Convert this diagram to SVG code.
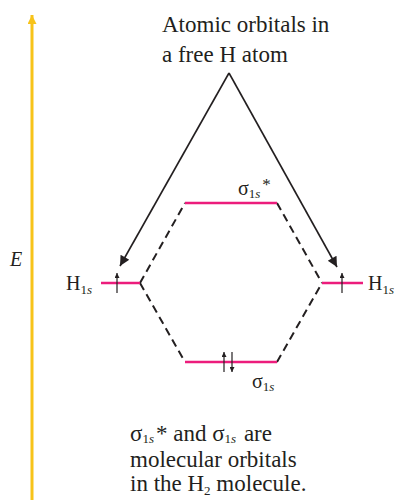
<svg xmlns="http://www.w3.org/2000/svg" width="405" height="500" viewBox="0 0 405 500">
<defs>
<style>
.t{font-family:"Liberation Serif","DejaVu Serif",serif;fill:#231f20}
.big{font-size:23px}
.lab{font-size:20px}
.sub{font-size:13px}
.it{font-style:italic}
.lvl{stroke:#ec1c7c;stroke-width:2.5;fill:none}
.dash{stroke:#231f20;stroke-width:2;stroke-dasharray:8 5;fill:none}
.arr{stroke:#231f20;stroke-width:1.6;fill:none}
.spin{stroke:#231f20;stroke-width:1.2;fill:none}
</style>
<marker id="ah" viewBox="0 0 10 10" refX="10" refY="5" markerWidth="6" markerHeight="5" markerUnits="userSpaceOnUse" orient="auto">
<path d="M0,0 L10,5 L0,10 z" fill="#231f20"/>
</marker>
<marker id="big" viewBox="0 0 10 10" refX="10" refY="5" markerWidth="13" markerHeight="10" orient="auto" markerUnits="userSpaceOnUse">
<path d="M0,0 L10,5 L0,10 z" fill="#231f20"/>
</marker>
<marker id="ya" viewBox="0 0 10 10" refX="10" refY="5" markerWidth="16" markerHeight="9" orient="auto" markerUnits="userSpaceOnUse">
<path d="M0,0 L10,5 L0,10 z" fill="#f7c31a"/>
</marker>
</defs>
<g id="axis">
<line x1="32" y1="500" x2="32" y2="15" stroke="#f7c31a" stroke-width="3" marker-end="url(#ya)"/>
<text class="t lab it" x="10" y="266">E</text>
</g>
<g id="caption-top">
<text class="t big" x="162" y="32">Atomic orbitals in</text>
<text class="t big" x="162" y="62">a free H atom</text>
</g>
<g id="connectors">
<line class="arr" x1="229" y1="73" x2="120" y2="266" marker-end="url(#big)"/>
<line class="arr" x1="229" y1="73" x2="337" y2="267" marker-end="url(#big)"/>
<path class="dash" d="M140,283 L185,203"/>
<path class="dash" d="M277,203 L322,283"/>
<path class="dash" d="M140,283 L185,362"/>
<path class="dash" d="M277,362 L322,283"/>
</g>
<g id="H1s-left">
<line class="lvl" x1="101" y1="283" x2="140" y2="283"/>
<line class="spin" x1="117" y1="293" x2="117" y2="273" marker-end="url(#ah)"/>
<text class="t lab" x="66" y="290">H<tspan class="sub" dy="4">1<tspan class="it">s</tspan></tspan></text>
</g>
<g id="H1s-right">
<line class="lvl" x1="322" y1="283" x2="363" y2="283"/>
<line class="spin" x1="342" y1="293" x2="342" y2="273" marker-end="url(#ah)"/>
<text class="t lab" x="368" y="290">H<tspan class="sub" dy="4">1<tspan class="it">s</tspan></tspan></text>
</g>
<g id="sigma-star">
<line class="lvl" x1="185" y1="203" x2="277" y2="203"/>
<text class="t lab" x="238" y="195">σ<tspan class="sub" dy="3">1<tspan class="it">s</tspan></tspan><tspan dx="2" dy="-8" font-size="17">*</tspan></text>
</g>
<g id="sigma">
<line class="lvl" x1="185" y1="362" x2="277" y2="362"/>
<line class="spin" x1="224" y1="372" x2="224" y2="352" marker-end="url(#ah)"/>
<line class="spin" x1="232" y1="352" x2="232" y2="372" marker-end="url(#ah)"/>
<text class="t lab" x="252" y="388">σ<tspan class="sub" dy="3">1<tspan class="it">s</tspan></tspan></text>
</g>
<g id="caption-bottom">
<text class="t big" x="130" y="441">σ<tspan class="sub" dy="2">1<tspan class="it">s</tspan></tspan><tspan dx="2" dy="-2">* and σ</tspan><tspan class="sub" dy="2">1<tspan class="it">s</tspan></tspan><tspan dx="2" dy="-2"> are</tspan></text>
<text class="t big" x="130" y="467">molecular orbitals</text>
<text class="t big" x="130" y="491">in the H<tspan class="sub" dy="4">2</tspan><tspan dy="-4"> molecule.</tspan></text>
</g>
</svg>
